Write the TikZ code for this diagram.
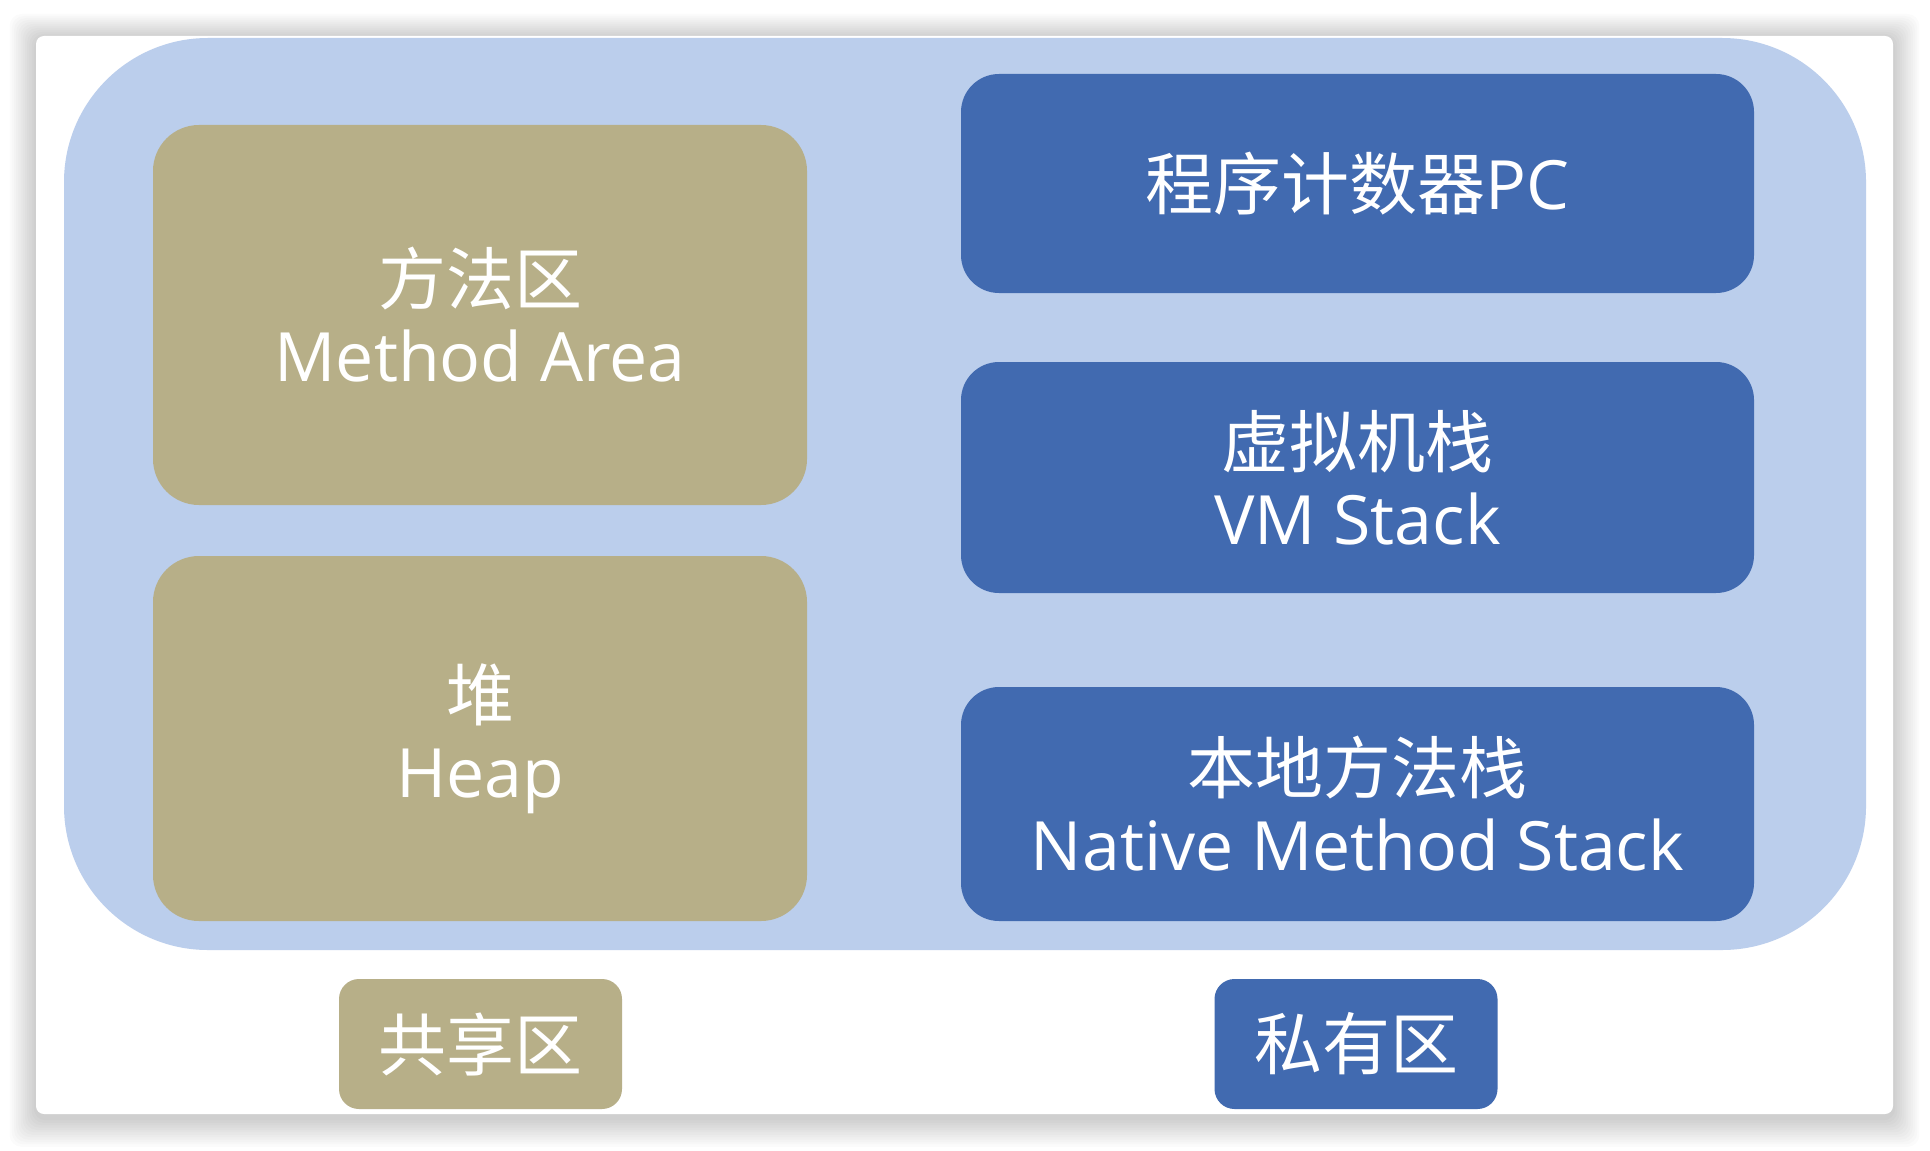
\documentclass[tikz,border=0pt]{standalone}
\usepackage{fontspec}
\setmainfont{Noto Sans CJK SC}
\newfontfamily\latinfont{Open Sans}

\definecolor{jvmbg}{HTML}{BBCEEC}
\definecolor{sharedc}{HTML}{B7AF88}
\definecolor{privatec}{HTML}{416AB0}

\tikzset{
  region/.style={rectangle, inner sep=0pt, align=center, text=white,
    font=\fontsize{34}{38.5}\selectfont},
  shared/.style={region, fill=sharedc, rounded corners=23pt, minimum width=327pt},
  private/.style={region, fill=privatec, rounded corners=19pt, minimum width=396.5pt},
  legend/.style={region, rounded corners=10pt, minimum width=141.5pt, minimum height=65pt}
}

\begin{document}
\begin{tikzpicture}[x=0.5pt,y=-0.5pt]
  \useasboundingbox (0,0) rectangle (1930,1150);
  \fill[white] (0,0) rectangle (1930,1150);
  % soft shadow round the card
  \foreach \s in {1,...,12}
    \fill[black, opacity=0.014, rounded corners=6pt]
      (36-2.2*\s,38-2*\s) rectangle (1893+2.2*\s,1118+2.4*\s);
  \fill[white, rounded corners=4pt] (36,36) rectangle (1893,1114);

  % runtime data areas
  \fill[jvmbg, rounded corners=72pt] (64,38) rectangle (1866,950);

  \node[shared, minimum height=190pt] (methodarea) at (480,315) {方法区\\{\latinfont Method Area}};
  \node[shared, minimum height=182.5pt] (heap) at (480,738.5) {堆\\{\latinfont Heap}};

  \node[private, minimum height=109.5pt] (pc) at (1357.5,183.5) {程序计数器{\latinfont PC}};
  \node[private, minimum height=115.5pt] (vmstack) at (1357.5,477.5) {虚拟机栈\\{\latinfont VM Stack}};
  \node[private, minimum height=117pt] (nativestack) at (1357.5,804) {本地方法栈\\{\latinfont Native Method Stack}};

  % legend
  \node[legend, fill=sharedc] (sharedlbl) at (480.5,1044) {共享区};
  \node[legend, fill=privatec] (privatelbl) at (1356,1044) {私有区};
\end{tikzpicture}
\end{document}
